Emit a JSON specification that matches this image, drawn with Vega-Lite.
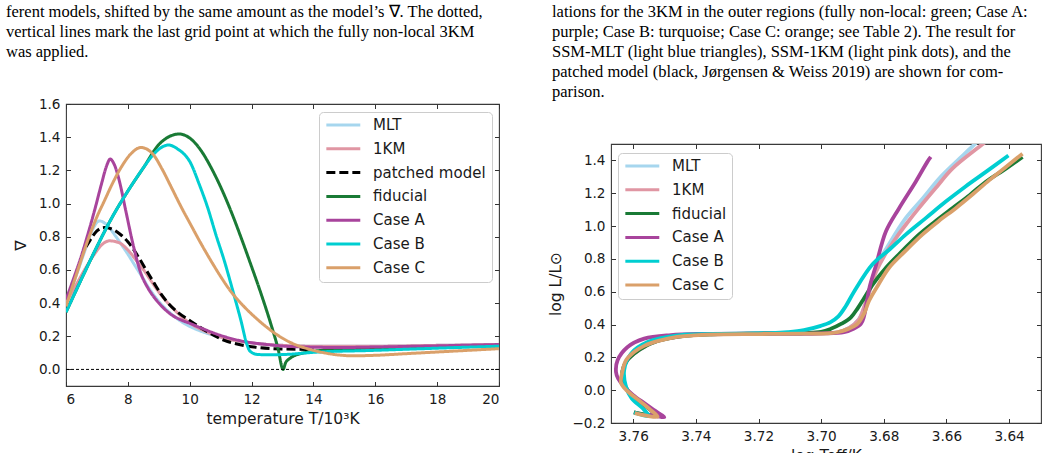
{
  "$schema": "https://vega.github.io/schema/vega-lite/v6.json",
  "padding": {"left": 5, "top": 2, "right": 0, "bottom": 0},
  "spacing": 47,
  "datasets": {
    "grad": [
      {"model": "MLT", "T": 6.0, "nabla": 0.40}, {"model": "MLT", "T": 6.3, "nabla": 0.55}, {"model": "MLT", "T": 6.6, "nabla": 0.71}, {"model": "MLT", "T": 6.85, "nabla": 0.84}, {"model": "MLT", "T": 7.08, "nabla": 0.895}, {"model": "MLT", "T": 7.3, "nabla": 0.875}, {"model": "MLT", "T": 7.56, "nabla": 0.815}, {"model": "MLT", "T": 7.8, "nabla": 0.75}, {"model": "MLT", "T": 8.0, "nabla": 0.695}, {"model": "MLT", "T": 8.2, "nabla": 0.635}, {"model": "MLT", "T": 8.42, "nabla": 0.57}, {"model": "MLT", "T": 8.7, "nabla": 0.485}, {"model": "MLT", "T": 9.0, "nabla": 0.41}, {"model": "MLT", "T": 9.4, "nabla": 0.335}, {"model": "MLT", "T": 9.8, "nabla": 0.28}, {"model": "MLT", "T": 10.3, "nabla": 0.235}, {"model": "MLT", "T": 11.0, "nabla": 0.195}, {"model": "MLT", "T": 12.0, "nabla": 0.16}, {"model": "MLT", "T": 13.0, "nabla": 0.145}, {"model": "MLT", "T": 14.0, "nabla": 0.14}, {"model": "MLT", "T": 16.0, "nabla": 0.14}, {"model": "MLT", "T": 18.0, "nabla": 0.145}, {"model": "MLT", "T": 20.0, "nabla": 0.15},
      {"model": "1KM", "T": 6.0, "nabla": 0.40}, {"model": "1KM", "T": 6.3, "nabla": 0.50}, {"model": "1KM", "T": 6.6, "nabla": 0.60}, {"model": "1KM", "T": 6.9, "nabla": 0.69}, {"model": "1KM", "T": 7.15, "nabla": 0.75}, {"model": "1KM", "T": 7.4, "nabla": 0.775}, {"model": "1KM", "T": 7.7, "nabla": 0.765}, {"model": "1KM", "T": 8.0, "nabla": 0.72}, {"model": "1KM", "T": 8.3, "nabla": 0.65}, {"model": "1KM", "T": 8.53, "nabla": 0.595}, {"model": "1KM", "T": 8.8, "nabla": 0.52}, {"model": "1KM", "T": 9.07, "nabla": 0.45}, {"model": "1KM", "T": 9.5, "nabla": 0.36}, {"model": "1KM", "T": 10.0, "nabla": 0.28}, {"model": "1KM", "T": 10.5, "nabla": 0.23}, {"model": "1KM", "T": 11.0, "nabla": 0.195}, {"model": "1KM", "T": 12.0, "nabla": 0.16}, {"model": "1KM", "T": 13.0, "nabla": 0.145}, {"model": "1KM", "T": 14.0, "nabla": 0.14}, {"model": "1KM", "T": 16.0, "nabla": 0.14}, {"model": "1KM", "T": 18.0, "nabla": 0.145}, {"model": "1KM", "T": 20.0, "nabla": 0.15},
      {"model": "patched model", "T": 6.65, "nabla": 0.74}, {"model": "patched model", "T": 6.85, "nabla": 0.80}, {"model": "patched model", "T": 7.0, "nabla": 0.835}, {"model": "patched model", "T": 7.24, "nabla": 0.855}, {"model": "patched model", "T": 7.5, "nabla": 0.845}, {"model": "patched model", "T": 7.75, "nabla": 0.815}, {"model": "patched model", "T": 8.0, "nabla": 0.77}, {"model": "patched model", "T": 8.3, "nabla": 0.69}, {"model": "patched model", "T": 8.59, "nabla": 0.60}, {"model": "patched model", "T": 8.85, "nabla": 0.52}, {"model": "patched model", "T": 9.07, "nabla": 0.455}, {"model": "patched model", "T": 9.35, "nabla": 0.39}, {"model": "patched model", "T": 9.61, "nabla": 0.345}, {"model": "patched model", "T": 10.0, "nabla": 0.295}, {"model": "patched model", "T": 10.5, "nabla": 0.235}, {"model": "patched model", "T": 11.12, "nabla": 0.175}, {"model": "patched model", "T": 11.6, "nabla": 0.15}, {"model": "patched model", "T": 12.2, "nabla": 0.132}, {"model": "patched model", "T": 13.0, "nabla": 0.123}, {"model": "patched model", "T": 14.0, "nabla": 0.12},
      {"model": "fiducial", "T": 6.0, "nabla": 0.345}, {"model": "fiducial", "T": 6.5, "nabla": 0.545}, {"model": "fiducial", "T": 7.0, "nabla": 0.74}, {"model": "fiducial", "T": 7.5, "nabla": 0.92}, {"model": "fiducial", "T": 8.0, "nabla": 1.075}, {"model": "fiducial", "T": 8.5, "nabla": 1.215}, {"model": "fiducial", "T": 9.0, "nabla": 1.355}, {"model": "fiducial", "T": 9.3, "nabla": 1.40}, {"model": "fiducial", "T": 9.66, "nabla": 1.419}, {"model": "fiducial", "T": 10.04, "nabla": 1.389}, {"model": "fiducial", "T": 10.4, "nabla": 1.31}, {"model": "fiducial", "T": 10.69, "nabla": 1.217}, {"model": "fiducial", "T": 11.0, "nabla": 1.10}, {"model": "fiducial", "T": 11.33, "nabla": 0.956}, {"model": "fiducial", "T": 11.65, "nabla": 0.80}, {"model": "fiducial", "T": 11.98, "nabla": 0.63}, {"model": "fiducial", "T": 12.3, "nabla": 0.46}, {"model": "fiducial", "T": 12.63, "nabla": 0.27}, {"model": "fiducial", "T": 12.85, "nabla": 0.13}, {"model": "fiducial", "T": 13.02, "nabla": 0.0}, {"model": "fiducial", "T": 13.1, "nabla": 0.04}, {"model": "fiducial", "T": 13.25, "nabla": 0.068}, {"model": "fiducial", "T": 13.45, "nabla": 0.088}, {"model": "fiducial", "T": 13.7, "nabla": 0.10}, {"model": "fiducial", "T": 14.03, "nabla": 0.11}, {"model": "fiducial", "T": 15.0, "nabla": 0.123}, {"model": "fiducial", "T": 17.0, "nabla": 0.132}, {"model": "fiducial", "T": 20.0, "nabla": 0.14},
      {"model": "Case A", "T": 6.0, "nabla": 0.42}, {"model": "Case A", "T": 6.25, "nabla": 0.55}, {"model": "Case A", "T": 6.48, "nabla": 0.674}, {"model": "Case A", "T": 6.7, "nabla": 0.81}, {"model": "Case A", "T": 6.92, "nabla": 0.956}, {"model": "Case A", "T": 7.15, "nabla": 1.12}, {"model": "Case A", "T": 7.3, "nabla": 1.22}, {"model": "Case A", "T": 7.43, "nabla": 1.268}, {"model": "Case A", "T": 7.55, "nabla": 1.24}, {"model": "Case A", "T": 7.72, "nabla": 1.14}, {"model": "Case A", "T": 7.94, "nabla": 0.95}, {"model": "Case A", "T": 8.16, "nabla": 0.76}, {"model": "Case A", "T": 8.42, "nabla": 0.58}, {"model": "Case A", "T": 8.65, "nabla": 0.49}, {"model": "Case A", "T": 8.86, "nabla": 0.432}, {"model": "Case A", "T": 9.1, "nabla": 0.38}, {"model": "Case A", "T": 9.39, "nabla": 0.332}, {"model": "Case A", "T": 9.7, "nabla": 0.30}, {"model": "Case A", "T": 10.04, "nabla": 0.275}, {"model": "Case A", "T": 10.36, "nabla": 0.25}, {"model": "Case A", "T": 11.0, "nabla": 0.205}, {"model": "Case A", "T": 11.66, "nabla": 0.172}, {"model": "Case A", "T": 12.5, "nabla": 0.15}, {"model": "Case A", "T": 13.27, "nabla": 0.138}, {"model": "Case A", "T": 14.89, "nabla": 0.132}, {"model": "Case A", "T": 16.0, "nabla": 0.135}, {"model": "Case A", "T": 18.0, "nabla": 0.142}, {"model": "Case A", "T": 20.0, "nabla": 0.15},
      {"model": "Case B", "T": 6.0, "nabla": 0.345}, {"model": "Case B", "T": 6.5, "nabla": 0.545}, {"model": "Case B", "T": 7.0, "nabla": 0.74}, {"model": "Case B", "T": 7.5, "nabla": 0.92}, {"model": "Case B", "T": 8.0, "nabla": 1.075}, {"model": "Case B", "T": 8.5, "nabla": 1.215}, {"model": "Case B", "T": 8.8, "nabla": 1.29}, {"model": "Case B", "T": 9.1, "nabla": 1.34}, {"model": "Case B", "T": 9.31, "nabla": 1.353}, {"model": "Case B", "T": 9.6, "nabla": 1.33}, {"model": "Case B", "T": 10.04, "nabla": 1.24}, {"model": "Case B", "T": 10.3, "nabla": 1.12}, {"model": "Case B", "T": 10.58, "nabla": 0.976}, {"model": "Case B", "T": 10.85, "nabla": 0.81}, {"model": "Case B", "T": 11.12, "nabla": 0.654}, {"model": "Case B", "T": 11.4, "nabla": 0.47}, {"model": "Case B", "T": 11.66, "nabla": 0.292}, {"model": "Case B", "T": 11.85, "nabla": 0.15}, {"model": "Case B", "T": 11.95, "nabla": 0.11}, {"model": "Case B", "T": 12.2, "nabla": 0.09}, {"model": "Case B", "T": 12.6, "nabla": 0.088}, {"model": "Case B", "T": 13.27, "nabla": 0.092}, {"model": "Case B", "T": 14.0, "nabla": 0.103}, {"model": "Case B", "T": 16.0, "nabla": 0.115}, {"model": "Case B", "T": 18.0, "nabla": 0.128}, {"model": "Case B", "T": 20.0, "nabla": 0.14},
      {"model": "Case C", "T": 6.0, "nabla": 0.38}, {"model": "Case C", "T": 6.35, "nabla": 0.58}, {"model": "Case C", "T": 6.7, "nabla": 0.775}, {"model": "Case C", "T": 7.0, "nabla": 0.92}, {"model": "Case C", "T": 7.24, "nabla": 1.016}, {"model": "Case C", "T": 7.5, "nabla": 1.12}, {"model": "Case C", "T": 7.78, "nabla": 1.217}, {"model": "Case C", "T": 8.1, "nabla": 1.30}, {"model": "Case C", "T": 8.42, "nabla": 1.338}, {"model": "Case C", "T": 8.8, "nabla": 1.30}, {"model": "Case C", "T": 9.1, "nabla": 1.21}, {"model": "Case C", "T": 9.4, "nabla": 1.10}, {"model": "Case C", "T": 9.75, "nabla": 0.97}, {"model": "Case C", "T": 10.04, "nabla": 0.87}, {"model": "Case C", "T": 10.36, "nabla": 0.76}, {"model": "Case C", "T": 10.69, "nabla": 0.654}, {"model": "Case C", "T": 11.0, "nabla": 0.56}, {"model": "Case C", "T": 11.33, "nabla": 0.47}, {"model": "Case C", "T": 11.7, "nabla": 0.39}, {"model": "Case C", "T": 12.2, "nabla": 0.30}, {"model": "Case C", "T": 12.7, "nabla": 0.225}, {"model": "Case C", "T": 13.27, "nabla": 0.161}, {"model": "Case C", "T": 13.8, "nabla": 0.125}, {"model": "Case C", "T": 14.35, "nabla": 0.10}, {"model": "Case C", "T": 15.3, "nabla": 0.082}, {"model": "Case C", "T": 16.0, "nabla": 0.085}, {"model": "Case C", "T": 17.0, "nabla": 0.095}, {"model": "Case C", "T": 18.0, "nabla": 0.105}, {"model": "Case C", "T": 19.0, "nabla": 0.115}, {"model": "Case C", "T": 20.0, "nabla": 0.125}
    ],
    "hrd": [
      {"model": "MLT", "i": 0, "logTeff": 3.7598, "logL": -0.135}, {"model": "MLT", "i": 1, "logTeff": 3.7555, "logL": -0.152}, {"model": "MLT", "i": 2, "logTeff": 3.7525, "logL": -0.158}, {"model": "MLT", "i": 3, "logTeff": 3.7545, "logL": -0.12}, {"model": "MLT", "i": 4, "logTeff": 3.758, "logL": -0.07}, {"model": "MLT", "i": 5, "logTeff": 3.7615, "logL": -0.01}, {"model": "MLT", "i": 6, "logTeff": 3.7632, "logL": 0.06}, {"model": "MLT", "i": 7, "logTeff": 3.7634, "logL": 0.12}, {"model": "MLT", "i": 8, "logTeff": 3.762, "logL": 0.18}, {"model": "MLT", "i": 9, "logTeff": 3.7597, "logL": 0.223}, {"model": "MLT", "i": 10, "logTeff": 3.7555, "logL": 0.275}, {"model": "MLT", "i": 11, "logTeff": 3.7533, "logL": 0.293}, {"model": "MLT", "i": 12, "logTeff": 3.748, "logL": 0.318}, {"model": "MLT", "i": 13, "logTeff": 3.743, "logL": 0.332}, {"model": "MLT", "i": 14, "logTeff": 3.735, "logL": 0.34}, {"model": "MLT", "i": 15, "logTeff": 3.72, "logL": 0.345}, {"model": "MLT", "i": 16, "logTeff": 3.70, "logL": 0.347}, {"model": "MLT", "i": 17, "logTeff": 3.6948, "logL": 0.353}, {"model": "MLT", "i": 18, "logTeff": 3.691, "logL": 0.38}, {"model": "MLT", "i": 19, "logTeff": 3.688, "logL": 0.43}, {"model": "MLT", "i": 20, "logTeff": 3.686, "logL": 0.52}, {"model": "MLT", "i": 21, "logTeff": 3.6843, "logL": 0.62}, {"model": "MLT", "i": 22, "logTeff": 3.6825, "logL": 0.746}, {"model": "MLT", "i": 23, "logTeff": 3.678, "logL": 0.90}, {"model": "MLT", "i": 24, "logTeff": 3.673, "logL": 1.048}, {"model": "MLT", "i": 25, "logTeff": 3.6675, "logL": 1.17}, {"model": "MLT", "i": 26, "logTeff": 3.6623, "logL": 1.29}, {"model": "MLT", "i": 27, "logTeff": 3.657, "logL": 1.39}, {"model": "MLT", "i": 28, "logTeff": 3.6517, "logL": 1.485}, {"model": "MLT", "i": 29, "logTeff": 3.649, "logL": 1.54},
      {"model": "1KM", "i": 0, "logTeff": 3.7598, "logL": -0.135}, {"model": "1KM", "i": 1, "logTeff": 3.7555, "logL": -0.152}, {"model": "1KM", "i": 2, "logTeff": 3.7525, "logL": -0.158}, {"model": "1KM", "i": 3, "logTeff": 3.7545, "logL": -0.12}, {"model": "1KM", "i": 4, "logTeff": 3.758, "logL": -0.07}, {"model": "1KM", "i": 5, "logTeff": 3.7615, "logL": -0.01}, {"model": "1KM", "i": 6, "logTeff": 3.7632, "logL": 0.06}, {"model": "1KM", "i": 7, "logTeff": 3.7634, "logL": 0.12}, {"model": "1KM", "i": 8, "logTeff": 3.762, "logL": 0.18}, {"model": "1KM", "i": 9, "logTeff": 3.7597, "logL": 0.223}, {"model": "1KM", "i": 10, "logTeff": 3.7555, "logL": 0.275}, {"model": "1KM", "i": 11, "logTeff": 3.7533, "logL": 0.293}, {"model": "1KM", "i": 12, "logTeff": 3.748, "logL": 0.318}, {"model": "1KM", "i": 13, "logTeff": 3.743, "logL": 0.332}, {"model": "1KM", "i": 14, "logTeff": 3.735, "logL": 0.34}, {"model": "1KM", "i": 15, "logTeff": 3.72, "logL": 0.345}, {"model": "1KM", "i": 16, "logTeff": 3.70, "logL": 0.347}, {"model": "1KM", "i": 17, "logTeff": 3.6948, "logL": 0.353}, {"model": "1KM", "i": 18, "logTeff": 3.691, "logL": 0.38}, {"model": "1KM", "i": 19, "logTeff": 3.688, "logL": 0.43}, {"model": "1KM", "i": 20, "logTeff": 3.686, "logL": 0.52}, {"model": "1KM", "i": 21, "logTeff": 3.6843, "logL": 0.62}, {"model": "1KM", "i": 22, "logTeff": 3.6825, "logL": 0.72}, {"model": "1KM", "i": 23, "logTeff": 3.6795, "logL": 0.83}, {"model": "1KM", "i": 24, "logTeff": 3.676, "logL": 0.93}, {"model": "1KM", "i": 25, "logTeff": 3.6725, "logL": 1.02}, {"model": "1KM", "i": 26, "logTeff": 3.6688, "logL": 1.109}, {"model": "1KM", "i": 27, "logTeff": 3.6635, "logL": 1.23}, {"model": "1KM", "i": 28, "logTeff": 3.6581, "logL": 1.35}, {"model": "1KM", "i": 29, "logTeff": 3.6496, "logL": 1.482}, {"model": "1KM", "i": 30, "logTeff": 3.647, "logL": 1.52},
      {"model": "fiducial", "i": 0, "logTeff": 3.7598, "logL": -0.135}, {"model": "fiducial", "i": 1, "logTeff": 3.7555, "logL": -0.152}, {"model": "fiducial", "i": 2, "logTeff": 3.7525, "logL": -0.158}, {"model": "fiducial", "i": 3, "logTeff": 3.7545, "logL": -0.12}, {"model": "fiducial", "i": 4, "logTeff": 3.758, "logL": -0.07}, {"model": "fiducial", "i": 5, "logTeff": 3.7615, "logL": -0.01}, {"model": "fiducial", "i": 6, "logTeff": 3.7632, "logL": 0.06}, {"model": "fiducial", "i": 7, "logTeff": 3.7634, "logL": 0.12}, {"model": "fiducial", "i": 8, "logTeff": 3.762, "logL": 0.18}, {"model": "fiducial", "i": 9, "logTeff": 3.7597, "logL": 0.223}, {"model": "fiducial", "i": 10, "logTeff": 3.7555, "logL": 0.275}, {"model": "fiducial", "i": 11, "logTeff": 3.7533, "logL": 0.293}, {"model": "fiducial", "i": 12, "logTeff": 3.748, "logL": 0.318}, {"model": "fiducial", "i": 13, "logTeff": 3.743, "logL": 0.332}, {"model": "fiducial", "i": 14, "logTeff": 3.735, "logL": 0.34}, {"model": "fiducial", "i": 15, "logTeff": 3.72, "logL": 0.345}, {"model": "fiducial", "i": 16, "logTeff": 3.7053, "logL": 0.348}, {"model": "fiducial", "i": 17, "logTeff": 3.70, "logL": 0.355}, {"model": "fiducial", "i": 18, "logTeff": 3.6969, "logL": 0.374}, {"model": "fiducial", "i": 19, "logTeff": 3.6935, "logL": 0.405}, {"model": "fiducial", "i": 20, "logTeff": 3.6905, "logL": 0.444}, {"model": "fiducial", "i": 21, "logTeff": 3.6883, "logL": 0.50}, {"model": "fiducial", "i": 22, "logTeff": 3.6863, "logL": 0.56}, {"model": "fiducial", "i": 23, "logTeff": 3.6835, "logL": 0.645}, {"model": "fiducial", "i": 24, "logTeff": 3.6793, "logL": 0.746}, {"model": "fiducial", "i": 25, "logTeff": 3.674, "logL": 0.85}, {"model": "fiducial", "i": 26, "logTeff": 3.6688, "logL": 0.948}, {"model": "fiducial", "i": 27, "logTeff": 3.6635, "logL": 1.03}, {"model": "fiducial", "i": 28, "logTeff": 3.6581, "logL": 1.109}, {"model": "fiducial", "i": 29, "logTeff": 3.6525, "logL": 1.19}, {"model": "fiducial", "i": 30, "logTeff": 3.6474, "logL": 1.27}, {"model": "fiducial", "i": 31, "logTeff": 3.641, "logL": 1.35}, {"model": "fiducial", "i": 32, "logTeff": 3.6357, "logL": 1.421},
      {"model": "Case A", "i": 0, "logTeff": 3.7565, "logL": -0.145}, {"model": "Case A", "i": 1, "logTeff": 3.7525, "logL": -0.158}, {"model": "Case A", "i": 2, "logTeff": 3.7501, "logL": -0.165}, {"model": "Case A", "i": 3, "logTeff": 3.7535, "logL": -0.12}, {"model": "Case A", "i": 4, "logTeff": 3.7565, "logL": -0.079}, {"model": "Case A", "i": 5, "logTeff": 3.76, "logL": -0.03}, {"model": "Case A", "i": 6, "logTeff": 3.7629, "logL": 0.021}, {"model": "Case A", "i": 7, "logTeff": 3.7648, "logL": 0.07}, {"model": "Case A", "i": 8, "logTeff": 3.7655, "logL": 0.11}, {"model": "Case A", "i": 9, "logTeff": 3.765, "logL": 0.182}, {"model": "Case A", "i": 10, "logTeff": 3.7618, "logL": 0.263}, {"model": "Case A", "i": 11, "logTeff": 3.7565, "logL": 0.314}, {"model": "Case A", "i": 12, "logTeff": 3.748, "logL": 0.336}, {"model": "Case A", "i": 13, "logTeff": 3.7373, "logL": 0.343}, {"model": "Case A", "i": 14, "logTeff": 3.72, "logL": 0.345}, {"model": "Case A", "i": 15, "logTeff": 3.70, "logL": 0.346}, {"model": "Case A", "i": 16, "logTeff": 3.6927, "logL": 0.353}, {"model": "Case A", "i": 17, "logTeff": 3.6895, "logL": 0.375}, {"model": "Case A", "i": 18, "logTeff": 3.6873, "logL": 0.404}, {"model": "Case A", "i": 19, "logTeff": 3.6863, "logL": 0.45}, {"model": "Case A", "i": 20, "logTeff": 3.6855, "logL": 0.53}, {"model": "Case A", "i": 21, "logTeff": 3.6845, "logL": 0.63}, {"model": "Case A", "i": 22, "logTeff": 3.6825, "logL": 0.76}, {"model": "Case A", "i": 23, "logTeff": 3.6793, "logL": 0.968}, {"model": "Case A", "i": 24, "logTeff": 3.6751, "logL": 1.109}, {"model": "Case A", "i": 25, "logTeff": 3.6698, "logL": 1.27}, {"model": "Case A", "i": 26, "logTeff": 3.6661, "logL": 1.391}, {"model": "Case A", "i": 27, "logTeff": 3.665, "logL": 1.421},
      {"model": "Case B", "i": 0, "logTeff": 3.7597, "logL": -0.136}, {"model": "Case B", "i": 1, "logTeff": 3.7572, "logL": -0.15}, {"model": "Case B", "i": 2, "logTeff": 3.755, "logL": -0.157}, {"model": "Case B", "i": 3, "logTeff": 3.757, "logL": -0.11}, {"model": "Case B", "i": 4, "logTeff": 3.7605, "logL": -0.05}, {"model": "Case B", "i": 5, "logTeff": 3.7623, "logL": 0.021}, {"model": "Case B", "i": 6, "logTeff": 3.7629, "logL": 0.122}, {"model": "Case B", "i": 7, "logTeff": 3.7607, "logL": 0.223}, {"model": "Case B", "i": 8, "logTeff": 3.7554, "logL": 0.293}, {"model": "Case B", "i": 9, "logTeff": 3.7459, "logL": 0.334}, {"model": "Case B", "i": 10, "logTeff": 3.7267, "logL": 0.344}, {"model": "Case B", "i": 11, "logTeff": 3.716, "logL": 0.348}, {"model": "Case B", "i": 12, "logTeff": 3.7107, "logL": 0.354}, {"model": "Case B", "i": 13, "logTeff": 3.7055, "logL": 0.366}, {"model": "Case B", "i": 14, "logTeff": 3.7001, "logL": 0.392}, {"model": "Case B", "i": 15, "logTeff": 3.697, "logL": 0.415}, {"model": "Case B", "i": 16, "logTeff": 3.6945, "logL": 0.45}, {"model": "Case B", "i": 17, "logTeff": 3.6922, "logL": 0.51}, {"model": "Case B", "i": 18, "logTeff": 3.6895, "logL": 0.60}, {"model": "Case B", "i": 19, "logTeff": 3.6836, "logL": 0.767}, {"model": "Case B", "i": 20, "logTeff": 3.678, "logL": 0.86}, {"model": "Case B", "i": 21, "logTeff": 3.673, "logL": 0.948}, {"model": "Case B", "i": 22, "logTeff": 3.6665, "logL": 1.05}, {"model": "Case B", "i": 23, "logTeff": 3.6602, "logL": 1.149}, {"model": "Case B", "i": 24, "logTeff": 3.654, "logL": 1.24}, {"model": "Case B", "i": 25, "logTeff": 3.6474, "logL": 1.33}, {"model": "Case B", "i": 26, "logTeff": 3.6402, "logL": 1.43},
      {"model": "Case C", "i": 0, "logTeff": 3.7595, "logL": -0.14}, {"model": "Case C", "i": 1, "logTeff": 3.7555, "logL": -0.156}, {"model": "Case C", "i": 2, "logTeff": 3.7522, "logL": -0.162}, {"model": "Case C", "i": 3, "logTeff": 3.7545, "logL": -0.12}, {"model": "Case C", "i": 4, "logTeff": 3.758, "logL": -0.065}, {"model": "Case C", "i": 5, "logTeff": 3.7622, "logL": 0.0}, {"model": "Case C", "i": 6, "logTeff": 3.7639, "logL": 0.045}, {"model": "Case C", "i": 7, "logTeff": 3.7635, "logL": 0.11}, {"model": "Case C", "i": 8, "logTeff": 3.7623, "logL": 0.182}, {"model": "Case C", "i": 9, "logTeff": 3.7595, "logL": 0.235}, {"model": "Case C", "i": 10, "logTeff": 3.7565, "logL": 0.27}, {"model": "Case C", "i": 11, "logTeff": 3.752, "logL": 0.30}, {"model": "Case C", "i": 12, "logTeff": 3.746, "logL": 0.325}, {"model": "Case C", "i": 13, "logTeff": 3.738, "logL": 0.337}, {"model": "Case C", "i": 14, "logTeff": 3.72, "logL": 0.342}, {"model": "Case C", "i": 15, "logTeff": 3.705, "logL": 0.344}, {"model": "Case C", "i": 16, "logTeff": 3.698, "logL": 0.346}, {"model": "Case C", "i": 17, "logTeff": 3.6948, "logL": 0.353}, {"model": "Case C", "i": 18, "logTeff": 3.6915, "logL": 0.372}, {"model": "Case C", "i": 19, "logTeff": 3.6884, "logL": 0.404}, {"model": "Case C", "i": 20, "logTeff": 3.6862, "logL": 0.47}, {"model": "Case C", "i": 21, "logTeff": 3.6847, "logL": 0.545}, {"model": "Case C", "i": 22, "logTeff": 3.6815, "logL": 0.65}, {"model": "Case C", "i": 23, "logTeff": 3.6783, "logL": 0.746}, {"model": "Case C", "i": 24, "logTeff": 3.673, "logL": 0.85}, {"model": "Case C", "i": 25, "logTeff": 3.6677, "logL": 0.948}, {"model": "Case C", "i": 26, "logTeff": 3.6625, "logL": 1.03}, {"model": "Case C", "i": 27, "logTeff": 3.657, "logL": 1.109}, {"model": "Case C", "i": 28, "logTeff": 3.6515, "logL": 1.195}, {"model": "Case C", "i": 29, "logTeff": 3.6463, "logL": 1.28}, {"model": "Case C", "i": 30, "logTeff": 3.641, "logL": 1.36}, {"model": "Case C", "i": 31, "logTeff": 3.6357, "logL": 1.441}
    ]
  },
  "hconcat": [
    {
      "width": 433,
      "height": 282,
      "title": {
        "text": [
          "ferent models, shifted by the same amount as the model’s ∇. The dotted,",
          "vertical lines mark the last grid point at which the fully non-local 3KM",
          "was applied."
        ],
        "dx": -60,
        "offset": 37
      },
      "layer": [
        {
          "data": {"name": "grad"},
          "mark": {"type": "line", "strokeWidth": 3, "interpolate": "monotone", "clip": true},
          "encoding": {
            "x": {
              "field": "T", "type": "quantitative",
              "scale": {"domain": [6, 20], "nice": false, "zero": false},
              "axis": {"values": [6, 8, 10, 12, 14, 16, 18, 20], "format": "d", "title": "temperature T/10³K", "titlePadding": 6}
            },
            "y": {
              "field": "nabla", "type": "quantitative",
              "scale": {"domain": [-0.1, 1.6], "nice": false, "zero": false},
              "axis": {"values": [0, 0.2, 0.4, 0.6, 0.8, 1.0, 1.2, 1.4, 1.6], "format": ".1f", "title": "∇", "titlePadding": 10}
            },
            "color": {
              "field": "model", "type": "nominal",
              "scale": {
                "domain": ["MLT", "1KM", "patched model", "fiducial", "Case A", "Case B", "Case C"],
                "range": ["#a6d6ee", "#e096a3", "#000000", "#197a35", "#a8449c", "#00ced1", "#daa06a"]
              },
              "legend": {"orient": "none", "legendX": 253, "legendY": 8}
            },
            "strokeDash": {
              "field": "model", "type": "nominal",
              "scale": {
                "domain": ["MLT", "1KM", "patched model", "fiducial", "Case A", "Case B", "Case C"],
                "range": [[1, 0], [1, 0], [9, 4], [1, 0], [1, 0], [1, 0], [1, 0]]
              },
              "legend": {"orient": "none", "legendX": 253, "legendY": 8}
            }
          }
        },
        {
          "data": {"values": [{}]},
          "mark": {"type": "rule", "color": "black", "strokeWidth": 1, "strokeDash": [3, 2]},
          "encoding": {
            "x": {"datum": 6, "type": "quantitative", "scale": {"domain": [6, 20], "nice": false, "zero": false},
                  "axis": {"orient": "top", "values": [6, 8, 10, 12, 14, 16, 18, 20], "labels": false, "title": null}},
            "x2": {"datum": 20},
            "y": {"datum": 0, "type": "quantitative", "scale": {"domain": [-0.1, 1.6], "nice": false, "zero": false},
                  "axis": {"orient": "right", "values": [0, 0.2, 0.4, 0.6, 0.8, 1.0, 1.2, 1.4, 1.6], "labels": false, "title": null}}
          }
        }
      ],
      "resolve": {"axis": {"x": "independent", "y": "independent"}}
    },
    {
      "spacing": 0,
      "vconcat": [
        {
          "width": 430,
          "height": 37.3,
          "view": {"stroke": null},
          "title": {
            "text": [
              "lations for the 3KM in the outer regions (fully non-local: green; Case A:",
              "purple; Case B: turquoise; Case C: orange; see Table 2). The result for",
              "SSM-MLT (light blue triangles), SSM-1KM (light pink dots), and the",
              "patched model (black,  Jørgensen & Weiss 2019) are shown for com-",
              "parison."
            ],
            "dx": -59,
            "offset": 4
          },
          "data": {"values": [{}]},
          "mark": {"type": "point", "opacity": 0},
          "encoding": {}
        },
        {
          "width": 430,
          "height": 279,
          "layer": [
            {
              "data": {"name": "hrd"},
              "mark": {"type": "line", "strokeWidth": 3.8, "interpolate": "catmull-rom", "clip": true},
              "encoding": {
                "x": {
                  "field": "logTeff", "type": "quantitative",
                  "scale": {"domain": [3.6298, 3.7671], "reverse": true, "nice": false, "zero": false},
                  "axis": {"values": [3.76, 3.74, 3.72, 3.70, 3.68, 3.66, 3.64], "format": ".2f", "title": "log Teff/K", "titlePadding": 6}
                },
                "y": {
                  "field": "logL", "type": "quantitative",
                  "scale": {"domain": [-0.2, 1.5], "nice": false, "zero": false},
                  "axis": {"values": [-0.2, 0, 0.2, 0.4, 0.6, 0.8, 1.0, 1.2, 1.4], "format": ".1f", "title": "log L/L⊙", "titlePadding": 8}
                },
                "order": {"field": "i", "type": "quantitative"},
                "color": {
                  "field": "model", "type": "nominal",
                  "scale": {
                    "domain": ["MLT", "1KM", "fiducial", "Case A", "Case B", "Case C"],
                    "range": ["#a6d6ee", "#e096a3", "#197a35", "#a8449c", "#00ced1", "#daa06a"]
                  },
                  "legend": {"orient": "none", "legendX": 7, "legendY": 9}
                }
              }
            },
            {
              "data": {"values": [{}]},
              "mark": {"type": "point", "opacity": 0},
              "encoding": {
                "x": {"datum": 3.70, "type": "quantitative", "scale": {"domain": [3.6298, 3.7671], "reverse": true, "nice": false, "zero": false},
                      "axis": {"orient": "top", "values": [3.76, 3.74, 3.72, 3.70, 3.68, 3.66, 3.64], "labels": false, "title": null}},
                "y": {"datum": 0.5, "type": "quantitative", "scale": {"domain": [-0.2, 1.5], "nice": false, "zero": false},
                      "axis": {"orient": "right", "values": [-0.2, 0, 0.2, 0.4, 0.6, 0.8, 1.0, 1.2, 1.4], "labels": false, "title": null}}
              }
            }
          ],
          "resolve": {"axis": {"x": "independent", "y": "independent"}}
        }
      ],
      "resolve": {"scale": {"color": "independent"}, "legend": {"color": "independent"}}
    }
  ],
  "resolve": {
    "scale": {"color": "independent", "strokeDash": "independent", "x": "independent", "y": "independent"},
    "legend": {"color": "independent", "strokeDash": "independent"}
  },
  "config": {
    "background": "white",
    "view": {"stroke": "#3a3a3a", "strokeWidth": 1.1},
    "title": {
      "font": "Liberation Serif", "fontSize": 16.5, "fontWeight": "normal", "color": "#000000",
      "anchor": "start", "frame": "group", "lineHeight": 20
    },
    "axis": {
      "domain": false, "grid": false,
      "ticks": true, "tickSize": -4.5, "tickColor": "#333333", "tickWidth": 1,
      "labelFont": "DejaVu Sans", "labelFontSize": 13.6, "labelColor": "#1a1a1a", "labelPadding": 10.5,
      "titleFont": "DejaVu Sans", "titleFontSize": 15.5, "titleFontWeight": "normal", "titleColor": "#1a1a1a"
    },
    "legend": {
      "title": null,
      "symbolType": "M-1,0L5,0", "symbolSize": 128, "symbolStrokeWidth": 3, "symbolOpacity": 1,
      "labelFont": "DejaVu Sans", "labelFontSize": 15, "labelColor": "#1a1a1a", "labelOffset": 33.5,
      "rowPadding": 7.8, "padding": 5.5,
      "strokeColor": "#cccccc", "fillColor": "rgba(255,255,255,0.85)", "cornerRadius": 4
    }
  }
}
